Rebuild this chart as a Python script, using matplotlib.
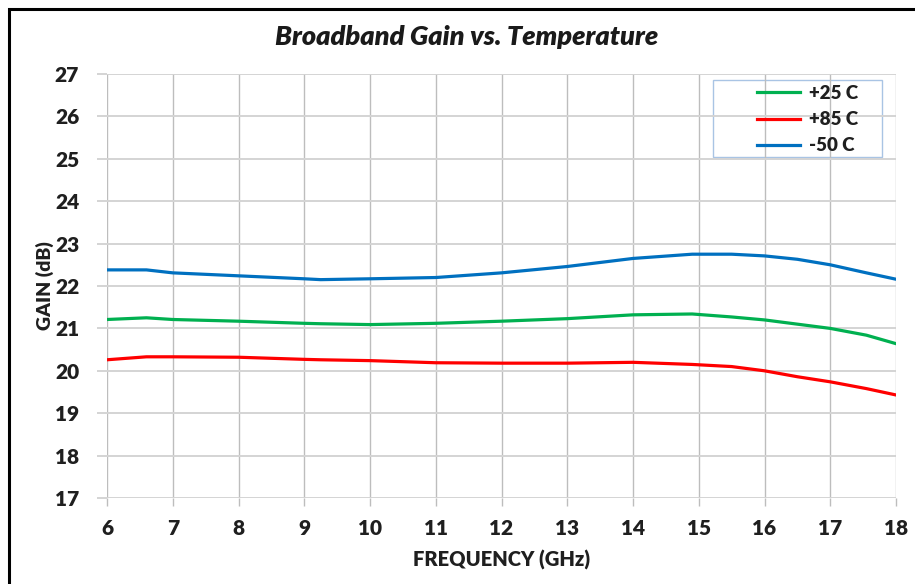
import matplotlib.pyplot as plt
from matplotlib.patches import Rectangle

plt.rcParams['font.family'] = ['Lato', 'DejaVu Sans']

# frequency points (GHz)
freq = [6.0, 6.6, 7.0, 8.0, 9.0, 9.25, 10.0, 11.0, 12.0, 13.0, 14.0, 14.9,
        15.5, 16.0, 16.5, 17.0, 17.55, 18.0]

gain_25 = [21.21, 21.25, 21.21, 21.17, 21.12, 21.11, 21.09, 21.12, 21.17, 21.23,
           21.32, 21.34, 21.27, 21.20, 21.10, 21.00, 20.84, 20.64]
gain_85 = [20.26, 20.33, 20.33, 20.32, 20.27, 20.26, 20.24, 20.19, 20.18, 20.18,
           20.20, 20.15, 20.10, 20.00, 19.86, 19.74, 19.58, 19.43]
gain_m50 = [22.38, 22.38, 22.31, 22.24, 22.17, 22.15, 22.17, 22.20, 22.31, 22.46,
            22.65, 22.75, 22.75, 22.71, 22.63, 22.50, 22.31, 22.16]

labels = ['+25 C', '+85 C', '-50 C']
colors = ['#00b050', '#ff0000', '#0070c0']

W, H = 915, 584
fig = plt.figure(figsize=(W / 100, H / 100), dpi=100)
ax = fig.add_axes([107 / W, 1 - 498 / H, (896 - 107) / W, (498 - 74) / H])

for ys, lab, c in zip([gain_25, gain_85, gain_m50], labels, colors):
    ax.plot(freq, ys, color=c, lw=2.3, label=lab)

ax.set_xlim(6, 18)
ax.set_ylim(17, 27)
ax.set_xticks(range(6, 19))
ax.set_yticks(range(17, 28))

# grid: horizontal lines lighter than vertical ones
ax.grid(axis='y', color='#d4d4d4', lw=1.4)
ax.grid(axis='x', color='#bdbdbd', lw=1.0)
ax.set_axisbelow(True)
for s in ax.spines.values():
    s.set_visible(False)
ax.tick_params(axis='x', length=6, width=1.0, color='#bdbdbd', pad=9)
ax.tick_params(axis='y', length=7, width=1.4, color='#d4d4d4', pad=13)
for t in ax.get_xticklabels() + ax.get_yticklabels():
    t.set_fontsize(15)
    t.set_fontweight('heavy')
    t.set_color('#1f1f1f')

ax.set_xlabel('FREQUENCY (GHz)', fontsize=14.5, fontweight='heavy', color='#1f1f1f', labelpad=9)
ax.set_ylabel('GAIN (dB)', fontsize=14, fontweight='heavy', color='#1f1f1f')
ax.yaxis.set_label_coords((54 - 107) / 789, 0.5)
fig.text(467 / W, 1 - 37 / H, 'Broadband Gain vs. Temperature', ha='center', va='center',
         fontsize=19.5, fontweight='heavy', fontstyle='italic', color='#1a1a1a')

# legend without frame, box drawn separately (wide left padding as in the picture)
leg = ax.legend(loc='upper left', bbox_to_anchor=((752 - 107) / 789, 1 - (80 - 74) / 424),
                fontsize=13.5, frameon=False, handlelength=2.3, handletextpad=0.5,
                borderpad=0.25, labelspacing=0.5, borderaxespad=0)
for t in leg.get_texts():
    t.set_fontweight('heavy')
    t.set_color('#1f1f1f')
fig.patches.append(Rectangle((713 / W, 1 - 157 / H), (882 - 713) / W, (157 - 80) / H,
                             transform=fig.transFigure, facecolor='white',
                             edgecolor='#a9c4e4', lw=1.0, zorder=1))
ax.set_zorder(2)
ax.patch.set_alpha(0)

# outer frame of the chart (cut off at right and bottom)
fig.patches.append(Rectangle((9 / W, -0.1), 1.2, 1 - 9 / H + 0.1, transform=fig.transFigure,
                             fill=False, edgecolor='black', lw=2.2))

fig.savefig('out.png', dpi=100)
